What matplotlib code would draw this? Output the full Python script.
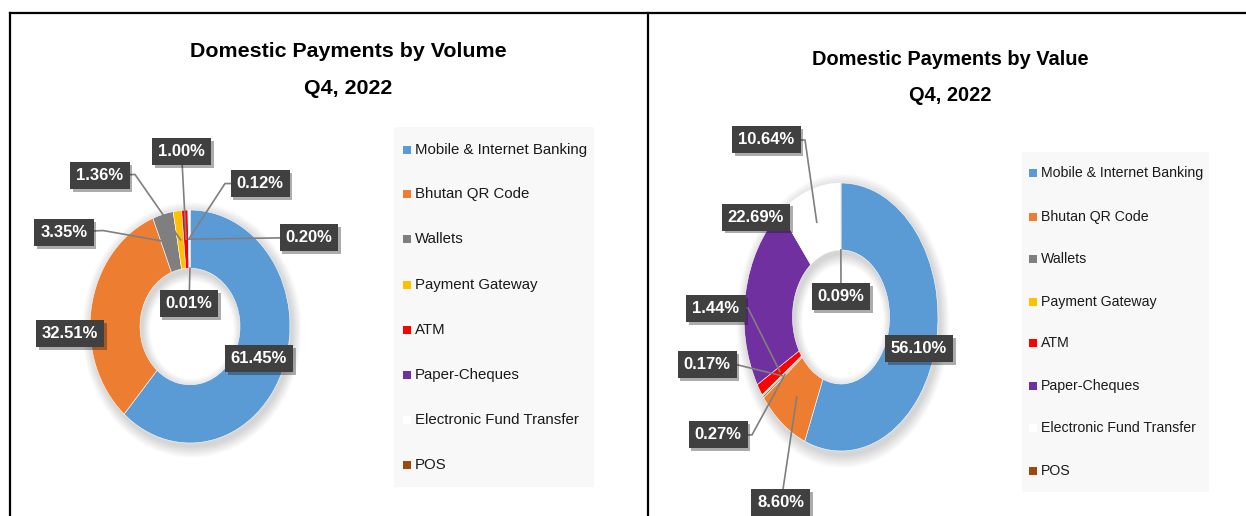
import numpy as np
import matplotlib.pyplot as plt
import matplotlib.patheffects as pe
from matplotlib.patches import Wedge, Rectangle
from matplotlib.lines import Line2D

W, H = 1246, 516

categories = ['Mobile & Internet Banking', 'Bhutan QR Code', 'Wallets', 'Payment Gateway',
              'ATM', 'Paper-Cheques', 'Electronic Fund Transfer', 'POS']
volume_share = [61.45, 32.51, 3.35, 1.36, 1.00, 0.12, 0.20, 0.01]
value_share = [56.10, 8.60, 0.27, 0.17, 1.44, 22.69, 10.64, 0.09]
colors = ['#5B9BD5', '#ED7D31', '#7F7F7F', '#FFC000', '#FF0000', '#7030A0', '#FFFFFF', '#9E480E']

# label placement (axes data units, donut radius = 1), leader elbow and anchor radius
vol_label_pos = [(0.69, -0.275), (-1.2, -0.06), (-1.26, 0.807), (-0.9, 1.296),
                 (-0.085, 1.502), (0.70, 1.227), (1.19, 0.764), (-0.01, 0.197)]
vol_elbows = [None, None, (-0.87, 0.824), (-0.55, 1.305), None, (0.35, 1.227), None, None]
vol_leader_r = [None, None, 0.75, 0.75, 0.75, 0.75, 0.75, 0.5]

val_label_pos = [(0.804, -0.235), (-0.619, -1.388), (-1.268, -0.88), (-1.381, -0.358),
                 (-1.289, 0.063), (-0.876, 0.746), (-0.768, 1.321), (0.0, 0.153)]
val_elbows = [None, None, (-0.918, -0.88), (-1.062, -0.358), (-0.959, 0.067), None,
              (-0.371, 1.321), None]
val_leader_r = [None, 0.75, 0.72, 0.75, 0.75, None, 0.75, 0.5]


def fx(x):
    return x / W


def fy(y):
    return 1 - y / H


fig = plt.figure(figsize=(W / 100, H / 100), dpi=100)
fig.patch.set_facecolor('white')


def donut(box, shares, label_pos, elbows, leader_r):
    x0, y0, x1, y1 = box
    ax = fig.add_axes([fx(x0), fy(y1), (x1 - x0) / W, (y1 - y0) / H])
    # soft shadow behind the ring
    for k in range(1, 15):
        ax.add_patch(Wedge((0.02, -0.03), 1 + 0.007 * k, 0, 360,
                           width=0.5 + 0.007 * k + 0.006 * k,
                           facecolor='black', alpha=0.012, lw=0, zorder=0, clip_on=False))
    wedges, _ = ax.pie(shares, colors=colors, startangle=90, counterclock=False,
                       radius=1, wedgeprops=dict(width=0.5, edgecolor='white', linewidth=0.4))
    for w in wedges:
        w.set_zorder(1)
        w.set_clip_on(False)
    ax.set_aspect('auto')
    ax.set_xlim(-1, 1)
    ax.set_ylim(-1, 1)
    ax.axis('off')

    total = sum(shares)
    cum = np.cumsum(shares)
    for i, v in enumerate(shares):
        lx, ly = label_pos[i]
        if leader_r[i] is not None:
            mid = (cum[i] - v / 2) / total
            ang = np.deg2rad(90 - 360 * mid)
            ax_, ay_ = leader_r[i] * np.cos(ang), leader_r[i] * np.sin(ang)
            xs, ys = [lx], [ly]
            if elbows[i] is not None:
                xs.append(elbows[i][0])
                ys.append(elbows[i][1])
            xs.append(ax_)
            ys.append(ay_)
            ax.plot(xs, ys, color='#7F7F7F', lw=1.2, zorder=3, clip_on=False)
        t = ax.text(lx, ly, f'{v:.2f}%', ha='center', va='center', color='white',
                    fontsize=12, fontweight='bold', family='Liberation Sans',
                    bbox=dict(boxstyle='square,pad=0.36', fc='#404040', ec='none'),
                    zorder=5, clip_on=False)
        t.get_bbox_patch().set_path_effects(
            [pe.SimplePatchShadow(offset=(2, -2), alpha=0.35), pe.Normal()])
    return ax


def legend(box, rows, text_x, size):
    x0, y0, x1, y1 = box
    fig.add_artist(Rectangle((fx(x0), fy(y1)), (x1 - x0) / W, (y1 - y0) / H,
                             transform=fig.transFigure, facecolor='#F8F8F8',
                             edgecolor='none', zorder=1))
    for name, c, y in zip(categories, colors, rows):
        fig.add_artist(Rectangle((fx(text_x - 12), fy(y + 4)), 8 / W, 8 / H,
                                 transform=fig.transFigure, facecolor=c,
                                 edgecolor='none', zorder=2))
        fig.text(fx(text_x), fy(y), name, ha='left', va='center', fontsize=size,
                 family='Liberation Sans', color='#1A1A1A', zorder=3)


donut((90, 210, 290, 443), volume_share, vol_label_pos, vol_elbows, vol_leader_r)
donut((744, 183, 938, 451), value_share, val_label_pos, val_elbows, val_leader_r)

legend((394, 127, 594, 487), [150, 194, 239, 285, 330, 375, 420, 465], 415, 10.8)
legend((1022, 152, 1209, 492), [173, 217, 259, 302, 343, 386, 428, 471], 1041, 10.2)

# titles
fig.text(fx(348.5), fy(56.7), 'Domestic Payments by Volume', ha='center', va='baseline',
         fontsize=15.4, fontweight='bold', family='Liberation Sans')
fig.text(fx(348.5), fy(94.5), 'Q4, 2022', ha='center', va='baseline',
         fontsize=15.4, fontweight='bold', family='Liberation Sans')
fig.text(fx(950), fy(65), 'Domestic Payments by Value', ha='center', va='baseline',
         fontsize=14.4, fontweight='bold', family='Liberation Sans')
fig.text(fx(950), fy(101), 'Q4, 2022', ha='center', va='baseline',
         fontsize=14.4, fontweight='bold', family='Liberation Sans')

# panel borders
for xs, ys in [((10, W), (13, 13)), ((10, 10), (13, H)), ((647.5, 647.5), (13, H))]:
    fig.add_artist(Line2D([fx(v) for v in xs], [fy(v) for v in ys],
                          transform=fig.transFigure, color='black', lw=1.6))

fig.savefig('out.png', dpi=100)
